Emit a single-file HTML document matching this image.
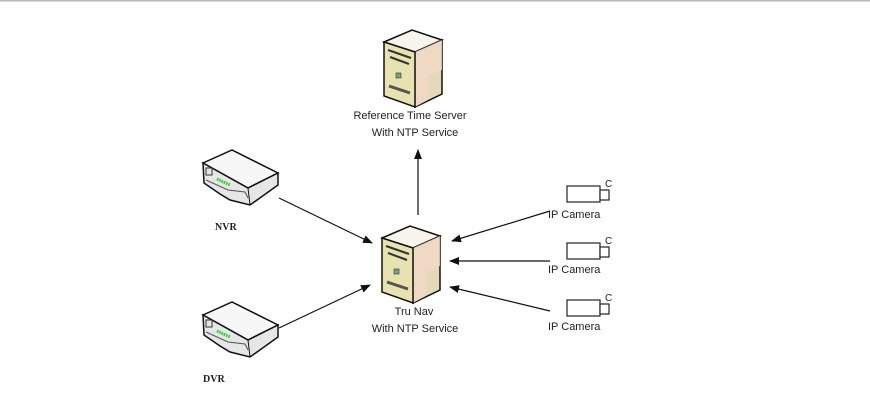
<!DOCTYPE html>
<html><head><meta charset="utf-8"><style>
html,body{margin:0;padding:0;background:#fff;width:870px;height:408px;overflow:hidden}
svg{display:block}
text{font-family:"Liberation Sans",sans-serif;font-size:11px;fill:#222}
.serif{font-family:"Liberation Serif",serif;font-weight:bold;font-size:10px}
</style></head><body>
<svg width="870" height="408" viewBox="0 0 870 408">
<defs>
<marker id="ah" markerWidth="10" markerHeight="8" refX="9" refY="4" orient="auto" markerUnits="userSpaceOnUse">
<path d="M0,0 L10,4 L0,8 Z" fill="#111"/></marker>
<g id="server">
<polygon points="0,12 28,0 58,10 31,22" fill="#f6f4ec" stroke="#111" stroke-width="1.5"/>
<polygon points="31,22 58,10 58,64 31,77" fill="#e4d9b8" stroke="#111" stroke-width="1.5"/>
<polygon points="31,22 58,10 58,40 44,46 44,70 31,77" fill="#f1d8c8" opacity="0.8"/>
<polygon points="0,12 31,22 31,77 0,66" fill="#e8e2b0" stroke="#111" stroke-width="1.5"/>
<line x1="4" y1="20" x2="27" y2="28" stroke="#333" stroke-width="2"/>
<line x1="6" y1="27" x2="25" y2="34" stroke="#333" stroke-width="2"/>
<rect x="12" y="43" width="5" height="5" fill="#6a8" stroke="#333" stroke-width="0.6"/>
<line x1="5" y1="56" x2="26" y2="63" stroke="#555" stroke-width="3"/>
</g>
<g id="rec">
<polygon points="13,13 42,0 88,23 58,38" fill="#f7f7f7" stroke="#111" stroke-width="1.5"/>
<path d="M13,13 L58,38 L88,23 L88,35 L60,55 L40,50 L30,44 L14,33 Z" fill="#e6e6e6" stroke="#111" stroke-width="1.5"/>
<path d="M58,38 L60,55" stroke="#111" stroke-width="1"/>
<rect x="16" y="18" width="6" height="7" fill="none" stroke="#333"/>
<line x1="27" y1="29" x2="40" y2="35" stroke="#2c2" stroke-width="3" stroke-dasharray="1.5,1"/>
<path d="M16,30 L38,40 L55,42 L58,48" fill="none" stroke="#555"/>
</g>
<g id="cam">
<rect x="0" y="3" width="33" height="16" fill="#fff" stroke="#222" stroke-width="1.2"/>
<rect x="33" y="7" width="9" height="10" fill="#fff" stroke="#222" stroke-width="1.2"/>
<text x="38" y="4" style="font-size:10px">C</text>
</g>
</defs>
<line x1="0" y1="0.7" x2="870" y2="0.7" stroke="#b9b9b9" stroke-width="1.5"/>

<use href="#server" x="384" y="30"/>
<text x="410" y="119" text-anchor="middle">Reference Time Server</text>
<text x="415" y="136" text-anchor="middle">With NTP Service</text>

<use href="#server" x="382" y="226"/>
<text x="414" y="315" text-anchor="middle">Tru Nav</text>
<text x="415" y="332" text-anchor="middle">With NTP Service</text>

<use href="#rec" x="190" y="150"/>
<text x="215" y="230" class="serif">NVR</text>
<use href="#rec" x="190" y="302"/>
<text x="203" y="382" class="serif">DVR</text>

<use href="#cam" x="567" y="183"/>
<text x="548" y="218">IP Camera</text>
<use href="#cam" x="567" y="240"/>
<text x="548" y="273">IP Camera</text>
<use href="#cam" x="567" y="297"/>
<text x="548" y="330">IP Camera</text>

<g stroke="#111" stroke-width="1.2" fill="none">
<line x1="418" y1="215" x2="418" y2="150" marker-end="url(#ah)"/>
<line x1="279" y1="198" x2="372" y2="243" marker-end="url(#ah)"/>
<line x1="279" y1="328" x2="370" y2="285" marker-end="url(#ah)"/>
<line x1="550" y1="211" x2="452" y2="241" marker-end="url(#ah)"/>
<line x1="550" y1="261" x2="450" y2="261" marker-end="url(#ah)"/>
<line x1="550" y1="311" x2="450" y2="287" marker-end="url(#ah)"/>
</g>
</svg>
</body></html>
